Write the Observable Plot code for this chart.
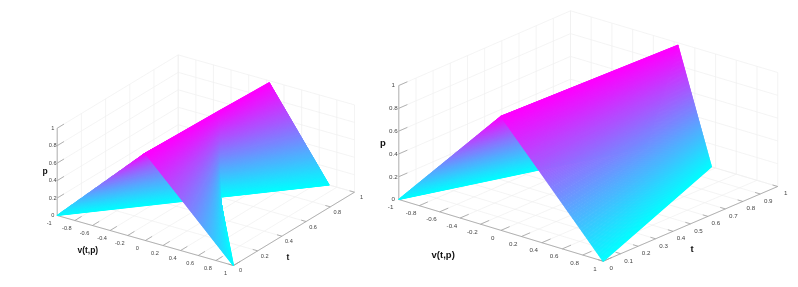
<!DOCTYPE html>
<html>
<head>
<meta charset="utf-8">
<style>
html,body{margin:0;padding:0;background:#fff;}
svg{display:block;filter:blur(0.45px);}
</style>
<script src="https://cdn.jsdelivr.net/npm/d3@7"></script>
<script src="https://cdn.jsdelivr.net/npm/@observablehq/plot@0.6"></script>
</head>
<body>
<div id="chart"></div>
<script>
// Tick values
const vTicks = [-1,-0.8,-0.6,-0.4,-0.2,0,0.2,0.4,0.6,0.8,1];
const pTicks = [0,0.2,0.4,0.6,0.8,1];
const tTicksLeft = [0,0.2,0.4,0.6,0.8,1];
const tTicksRight = [0,0.1,0.2,0.3,0.4,0.5,0.6,0.7,0.8,0.9,1];

// Surface outline values read at each knot: foot (p=0) and ridge (p=1)
const leftWaveFootT = [0,1],       leftWaveFootV = [-1,0.71];
const leftWaveRidgeT = [0,0.98],   leftWaveRidgeV = [0,0.06];
const leftFanFootT = [0,0.6,1],    leftFanFootV = [1,0.02,0.71];
const leftFanRidgeT = [0,0.59,0.98], leftFanRidgeV = [0,0.03,0.06];
const rightWaveFootT = [0,1],      rightWaveFootV = [-1,-0.27];
const rightWaveRidgeT = [0,0.98],  rightWaveRidgeV = [0,0.07];
const rightFanFootT = [0,1],       rightFanFootV = [1,0.36];
const rightFanRidgeT = [0,0.98],   rightFanRidgeV = [0,0.07];

const panels = [
  {id:"L", o:[56.7,215], vv:[176.3,50], tv:[121,-73.3], cross:[0,0], ph:87.3, tTicks:tTicksLeft,
   sheets:[[leftWaveFootT,leftWaveFootV,leftWaveRidgeT,leftWaveRidgeV],
           [leftFanFootT,leftFanFootV,leftFanRidgeT,leftFanRidgeV]], size:5.6, tick:0.028,
   vOff:[-8,7.5], tOff:[7,5.2], pOff:-4.5,
   titles:[["p",44.7,170.5],["t",287.3,257],["v(t,p)",87.3,250]], titleSize:8.5},
  {id:"R", o:[398.3,199], vv:[204.4,61.7], tv:[171.7,-74.7], cross:[2.8,0], ph:114, tTicks:tTicksRight,
   sheets:[[rightWaveFootT,rightWaveFootV,rightWaveRidgeT,rightWaveRidgeV],
           [rightFanFootT,rightFanFootV,rightFanRidgeT,rightFanRidgeV]], size:6.2, tick:0.025,
   vOff:[-8.2,7.6], tOff:[8,7], pOff:-5.5,
   titles:[["p",382.3,142],["t",691.7,248.5],["v(t,p)",442.7,254]], titleSize:9.5}
];

const project = (P,v,t,p) => {
  const a = (v+1)/2;
  return [P.o[0]+a*P.vv[0]+t*P.tv[0]+a*t*P.cross[0], P.o[1]+a*P.vv[1]+t*P.tv[1]+a*t*P.cross[1]-p*P.ph];
};
const seg = (P,a,b) => {
  const s = project(P,...a), e = project(P,...b);
  return {x1:s[0],y1:s[1],x2:e[0],y2:e[1]};
};

const grid=[], axes=[], tickLabels=[], titles=[], shade=[];
const LEVELS = 260;
for (const P of panels) {
  for (const v of vTicks) {
    grid.push(seg(P,[v,0,0],[v,1,0]));
    grid.push(seg(P,[v,1,0],[v,1,1]));
  }
  for (const t of P.tTicks) {
    grid.push(seg(P,[-1,t,0],[1,t,0]));
    grid.push(seg(P,[-1,t,0],[-1,t,1]));
  }
  for (const p of pTicks) {
    grid.push(seg(P,[-1,0,p],[-1,1,p]));
    grid.push(seg(P,[-1,1,p],[1,1,p]));
  }
  axes.push(seg(P,[-1,0,0],[1,0,0]), seg(P,[1,0,0],[1,1,0]), seg(P,[-1,0,0],[-1,0,1]));
  const k = P.tick;
  for (const v of vTicks) {
    axes.push(seg(P,[v,0,0],[v,k*2,0]));
    const q = project(P,v,0,0);
    tickLabels.push({x:q[0]+P.vOff[0],y:q[1]+P.vOff[1],s:String(v),size:P.size,anchor:"middle"});
  }
  for (const t of P.tTicks) {
    axes.push(seg(P,[1,t,0],[1-k*2,t,0]));
    const q = project(P,1,t,0);
    tickLabels.push({x:q[0]+P.tOff[0],y:q[1]+P.tOff[1],s:String(t),size:P.size,anchor:"middle"});
  }
  for (const p of pTicks) {
    axes.push(seg(P,[-1,0,p],[-1,k*2,p]));
    const q = project(P,-1,0,p);
    tickLabels.push({x:q[0]+P.pOff,y:q[1],s:String(p),size:P.size,anchor:"end"});
  }
  for (const [s,x,y] of P.titles) titles.push({s,x,y,size:P.titleSize});
  // Shading: constant-height contours across each sheet, so the colour scale paints the gradient
  P.sheets.forEach(([footT,footV,ridgeT,ridgeV],si) => {
    for (let j=0;j<=LEVELS;j++) {
      const p=j/LEVELS;
      footT.forEach((t,i) => {
        const q=project(P,footV[i]*(1-p)+ridgeV[i]*p,t*(1-p)+ridgeT[i]*p,p);
        shade.push({key:`${P.id}${si}-${j}`,x:q[0],y:q[1],p});
      });
    }
  });
}

const chart = Plot.plot({
  width:798, height:287, margin:0,
  x:{domain:[0,798],range:[0,798],axis:null},
  y:{domain:[0,287],range:[0,287],axis:null},
  color:{type:"linear",domain:[0,1],range:["#00ffff","#ff00ff"],interpolate:"rgb"},
  style:{background:"#fff",fontFamily:"'Liberation Sans',Arial,sans-serif"},
  marks:[
    Plot.link(grid,{x1:"x1",y1:"y1",x2:"x2",y2:"y2",stroke:"#efefef",strokeWidth:0.7}),
    Plot.link(axes,{x1:"x1",y1:"y1",x2:"x2",y2:"y2",stroke:"#a0a0a0",strokeWidth:0.8}),
    Plot.line(shade,{x:"x",y:"y",z:"key",stroke:"p",strokeWidth:1.2}),
    Plot.text(tickLabels,{x:"x",y:"y",text:"s",fontSize:"size",textAnchor:"anchor",fill:"#444"}),
    Plot.text(titles,{x:"x",y:"y",text:"s",fontSize:"size",fontWeight:"bold",fill:"#111"})
  ]
});
document.getElementById("chart").appendChild(chart);
</script>
</body>
</html>
